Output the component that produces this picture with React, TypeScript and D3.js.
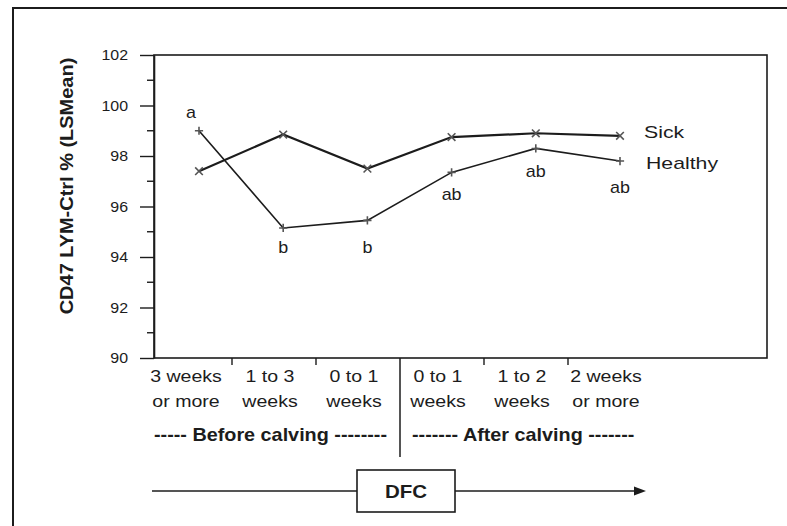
import React, { useRef, useEffect } from 'react';
import * as d3 from 'd3';

// categories (two-line tick labels)
const catLine1 = ['3 weeks', '1 to 3', '0 to 1', '0 to 1', '1 to 2', '2 weeks'];
const catLine2 = ['or more', 'weeks', 'weeks', 'weeks', 'weeks', 'or more'];

// series (LSMean %)
const healthy = [99.0, 95.15, 95.45, 97.35, 98.3, 97.8];
const sick = [97.4, 98.85, 97.5, 98.75, 98.9, 98.8];

// significance letters for Healthy, with the value where they sit
const letters = ['a', 'b', 'b', 'ab', 'ab', 'ab'];
const letterAt = [99.5, 94.15, 94.15, 96.25, 97.15, 96.55];

const yTicks = [90, 92, 94, 96, 98, 100, 102];
const yMinor = [91, 93, 95, 97, 99, 101];

const periods = ['----- Before calving --------', '------- After calving -------'];

const FONT = '"Liberation Sans", Arial, Helvetica, sans-serif';
const INK = '#1c1c1c';

const App = () => {
  const svgRef = useRef<SVGSVGElement>(null);

  useEffect(() => {
    const svg = d3.select(svgRef.current);
    svg.selectAll('*').remove();

    var width = 787, height = 526;
    var left = 154, right = 767, top = 55, bottom = 358;

    var idx = d3.range(catLine1.length);
    var xBand = d3.scaleBand<number>().domain(idx).range([148, 652]);
    var xPt = d3.scalePoint<number>().domain(idx).range([199, 620]);
    var y = d3.scaleLinear().domain([90, 102]).range([bottom, top]);

    // stretched text helper (the original font runs wide)
    const stext = (g, x, yy, txt, size, opts: any = {}) =>
      g.append('text')
        .attr('transform', `translate(${x},${yy}) ${opts.rotate ? 'rotate(-90)' : ''} scale(${opts.sx || 1.14},1)`)
        .attr('text-anchor', opts.anchor || 'middle')
        .attr('font-family', FONT)
        .attr('font-size', size)
        .attr('font-weight', opts.bold ? 'bold' : 'normal')
        .attr('fill', INK)
        .text(txt);

    // outer page border
    svg.append('path')
      .attr('d', `M13,${height} V8 H${width}`)
      .attr('fill', 'none')
      .attr('stroke', INK)
      .attr('stroke-width', 2);

    // plot frame
    svg.append('rect')
      .attr('x', left).attr('y', top)
      .attr('width', right - left).attr('height', bottom - top)
      .attr('fill', 'none').attr('stroke', INK).attr('stroke-width', 1.6);

    // y axis
    var yAxis = svg.append('g')
      .attr('transform', `translate(${left},0)`)
      .call(d3.axisLeft(y).tickValues(yTicks).tickSize(14).tickSizeOuter(0).tickFormat(() => ''));
    yAxis.select('.domain').attr('stroke', INK).attr('stroke-width', 1.6);
    yAxis.selectAll('.tick line').attr('stroke', INK).attr('stroke-width', 1.4);

    svg.append('g')
      .selectAll('line')
      .data(yMinor)
      .enter()
      .append('line')
      .attr('x1', left - 7).attr('x2', left)
      .attr('y1', d => y(d)).attr('y2', d => y(d))
      .attr('stroke', INK).attr('stroke-width', 1.4);

    yTicks.forEach(t => stext(svg, 128, y(t) + 5, String(t), 14.5, { anchor: 'end', sx: 1.1 }));

    // y title
    stext(svg, 73, 186, 'CD47 LYM-Ctrl % (LSMean)', 18, { rotate: true, bold: true, sx: 1.11 });

    // x ticks (category boundaries)
    var divX = xBand(3) as number;
    [1, 2, 4, 5].forEach(i => {
      var bx = xBand(i) as number;
      svg.append('line')
        .attr('x1', bx).attr('x2', bx)
        .attr('y1', bottom).attr('y2', bottom + 7)
        .attr('stroke', INK).attr('stroke-width', 1.4);
    });

    // before / after divider
    svg.append('line')
      .attr('x1', divX).attr('x2', divX)
      .attr('y1', bottom).attr('y2', 457)
      .attr('stroke', INK).attr('stroke-width', 1.5);

    idx.forEach(i => {
      var cx = (xBand(i) as number) + xBand.bandwidth() / 2 - 4;
      stext(svg, cx, 382, catLine1[i], 17, { sx: 1.15 });
      stext(svg, cx, 407, catLine2[i], 17, { sx: 1.15 });
    });

    stext(svg, divX - 13, 441, periods[0], 18, { anchor: 'end', bold: true, sx: 1.1 });
    stext(svg, divX + 12, 441, periods[1], 18, { anchor: 'start', bold: true, sx: 1.1 });

    // lines
    var line = d3.line<number>()
      .x((d, i) => xPt(i) as number)
      .y(d => y(d));

    svg.append('path')
      .datum(sick)
      .attr('d', line)
      .attr('fill', 'none').attr('stroke', INK).attr('stroke-width', 2.2);

    svg.append('path')
      .datum(healthy)
      .attr('d', line)
      .attr('fill', 'none').attr('stroke', INK).attr('stroke-width', 1.6);

    // markers
    var plus = d3.symbol().type(d3.symbolPlus).size(24);
    var times = d3.symbol().type(d3.symbolTimes).size(40);

    svg.append('g')
      .selectAll('path')
      .data(healthy)
      .enter()
      .append('path')
      .attr('d', plus)
      .attr('transform', (d, i) => `translate(${xPt(i)},${y(d)})`)
      .attr('fill', 'none').attr('stroke', '#555').attr('stroke-width', 1.6);

    svg.append('g')
      .selectAll('path')
      .data(sick)
      .enter()
      .append('path')
      .attr('d', times)
      .attr('transform', (d, i) => `translate(${xPt(i)},${y(d)})`)
      .attr('fill', 'none').attr('stroke', '#555').attr('stroke-width', 1.6);

    // significance letters
    letters.forEach((l, i) => {
      stext(svg, (xPt(i) as number) + (i === 0 ? -8 : 0), y(letterAt[i]), l, 16, { sx: 1.12 });
    });

    // series labels
    var last = sick.length - 1;
    stext(svg, (xPt(last) as number) + 24, y(sick[last]) + 2, 'Sick', 17, { anchor: 'start', sx: 1.25 });
    stext(svg, (xPt(last) as number) + 26, y(healthy[last]) + 8, 'Healthy', 17, { anchor: 'start', sx: 1.25 });

    // DFC arrow
    var ay = 491;
    svg.append('line')
      .attr('x1', 152).attr('x2', 357).attr('y1', ay).attr('y2', ay)
      .attr('stroke', INK).attr('stroke-width', 1.6);
    svg.append('rect')
      .attr('x', 357).attr('y', 470).attr('width', 98).attr('height', 42)
      .attr('fill', 'none').attr('stroke', INK).attr('stroke-width', 1.6);
    stext(svg, 406, 498, 'DFC', 18, { bold: true, sx: 1.14 });
    svg.append('line')
      .attr('x1', 455).attr('x2', 636).attr('y1', ay).attr('y2', ay)
      .attr('stroke', INK).attr('stroke-width', 1.6);
    svg.append('path')
      .attr('d', `M634,${ay - 4.5} L646,${ay} L634,${ay + 4.5} Z`)
      .attr('fill', INK);
  }, []);

  return (
    <svg
      ref={svgRef}
      width={787}
      height={526}
      style={{ position: 'absolute', left: 0, top: 0, background: '#fff' }}
    />
  );
};

export default App;
